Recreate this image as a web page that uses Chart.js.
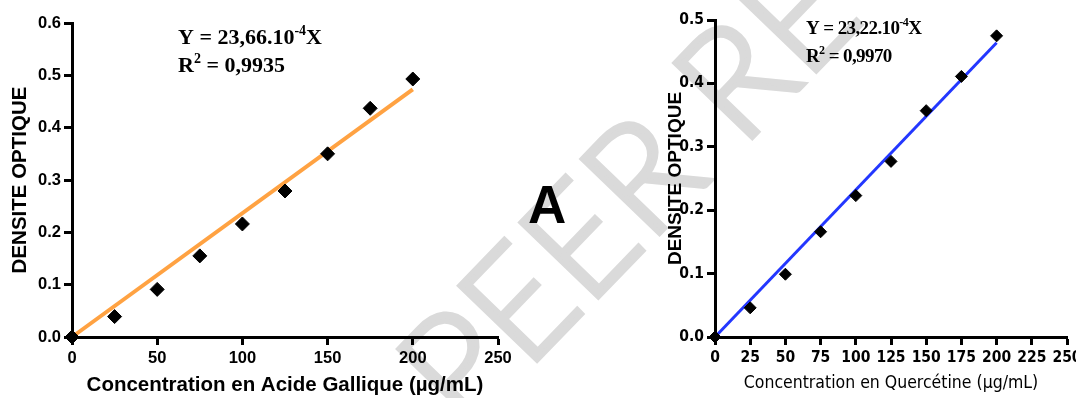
<!DOCTYPE html>
<html>
<head>
<meta charset="utf-8">
<script src="https://cdn.jsdelivr.net/npm/chart.js@4.4.0/dist/chart.umd.min.js"></script>
<style>
  html, body { margin: 0; padding: 0; background: #fff; overflow: hidden; width: 1076px; height: 398px; }
  canvas { position: absolute; top: 0; }
  #bg { left: 0; }
  #left { left: 0; }
  #right { left: 540px; }
  #panel { position: absolute; left: 528px; top: 178px; font: bold 53px 'Liberation Sans', Arial, sans-serif; line-height: 53px; color: #000; }
</style>
</head>
<body>
<canvas id="bg" width="1076" height="398"></canvas>
<canvas id="left" width="540" height="398"></canvas>
<canvas id="right" width="560" height="398"></canvas>
<div id="panel">A</div>
<script>
// concentrations (µg/mL) and optical densities
const concX = [0, 25, 50, 75, 100, 125, 150, 175, 200];
const gallicOD = [0.000, 0.039, 0.091, 0.155, 0.216, 0.279, 0.350, 0.437, 0.493];
const quercetinOD = [0.000, 0.046, 0.099, 0.166, 0.223, 0.277, 0.357, 0.411, 0.475];

// regression lines (end points)
const fitX = [0, 200];
const gallicFit = [0, 0.473];
const quercetinFit = [0, 0.464];

const yTitle = 'DENSITE OPTIQUE';
const gallicTitle = 'Concentration en Acide Gallique (µg/mL)';
const quercetinTitle = 'Concentration en Quercétine (µg/mL)';
const gallicEq = ['Y = 23,66.10', '-4', 'X'];
const gallicR2 = ['R', '2', ' = 0,9935'];
const quercetinEq = ['Y = 23,22.10', '-4', 'X'];
const quercetinR2 = ['R', '2', ' = 0,9970'];

function pts(xs, ys) {
    return xs.map((x, i) => ({ x: x, y: ys[i] }));
}

// watermark behind both charts
function drawWatermark() {
    const ctx = document.getElementById('bg').getContext('2d');
    ctx.save();
    ctx.translate(465, 435);
    ctx.rotate(-46 * Math.PI / 180);
    ctx.font = '300 152px Lato, "Open Sans", sans-serif';
    ctx.fillStyle = '#dadada';
    ctx.strokeStyle = '#dadada';
    ctx.lineWidth = 5;
    ctx.lineJoin = 'miter';
    ctx.fillText('PEER REVIEW', 0, 0);
    ctx.strokeText('PEER REVIEW', 0, 0);
    ctx.restore();
}

// draws "base" + superscript + "tail" at a spot relative to the chart area
function equationPlugin(opts) {
    return {
        id: 'equation',
        afterDraw(chart) {
            const ctx = chart.ctx;
            const a = chart.chartArea;
            const fam = 'px "Liberation Serif", "Times New Roman", serif';
            ctx.save();
            ctx.fillStyle = '#000';
            ctx.textBaseline = 'alphabetic';
            ctx.letterSpacing = opts.spacing;
            opts.lines.forEach((parts, i) => {
                let x = a.left + opts.dx;
                const y = a.top + opts.dy + i * opts.gap;
                ctx.font = 'bold ' + opts.size + fam;
                ctx.fillText(parts[0], x, y);
                x += ctx.measureText(parts[0]).width;
                ctx.font = 'bold ' + Math.round(opts.size * 0.62) + fam;
                ctx.fillText(parts[1], x, y - opts.size * 0.4);
                x += ctx.measureText(parts[1]).width;
                ctx.font = 'bold ' + opts.size + fam;
                ctx.fillText(parts[2], x, y);
            });
            ctx.restore();
        }
    };
}

function makeChart(id, cfg) {
    return new Chart(document.getElementById(id), {
        type: 'scatter',
        data: {
            datasets: [{
                type: 'scatter',
                data: pts(concX, cfg.values),
                pointStyle: 'rectRot',
                pointRadius: cfg.pointRadius,
                backgroundColor: '#000',
                borderColor: '#000',
                borderWidth: 1,
                clip: false,
                order: 1
            }, {
                type: 'line',
                data: pts(fitX, cfg.fit),
                borderColor: cfg.lineColor,
                borderWidth: cfg.lineWidth,
                pointRadius: 0,
                fill: false,
                clip: false,
                order: 2
            }]
        },
        options: {
            responsive: false,
            animation: false,
            layout: { padding: { left: 0, top: cfg.top, right: cfg.right, bottom: 0 } },
            plugins: { legend: { display: false }, tooltip: { enabled: false } },
            scales: {
                x: {
                    type: 'linear',
                    min: 0,
                    max: 250,
                    afterFit: s => { s.height = 61; },
                    ticks: { stepSize: cfg.xStep, color: '#000', font: cfg.tickFont, padding: 4, maxRotation: 0 },
                    grid: { drawOnChartArea: false, drawTicks: true, tickLength: 8, tickColor: '#000', tickWidth: 3 },
                    border: { display: true, color: '#000', width: 3 },
                    title: { display: true, text: cfg.xTitle, color: '#000', font: cfg.xTitleFont, padding: { top: 0, bottom: cfg.xTitlePad } }
                },
                y: {
                    type: 'linear',
                    min: 0,
                    max: cfg.yMax,
                    afterFit: s => { s.width = cfg.yWidth; },
                    ticks: { stepSize: 0.1, color: '#000', font: cfg.tickFont, padding: 3, callback: v => v.toFixed(1) },
                    grid: { drawOnChartArea: false, drawTicks: true, tickLength: 8, tickColor: '#000', tickWidth: 3 },
                    border: { display: true, color: '#000', width: 3 },
                    title: { display: true, text: yTitle, color: '#000', font: cfg.yTitleFont, padding: { top: cfg.yTitlePad, bottom: 0 } }
                }
            }
        },
        plugins: [equationPlugin(cfg.eq)]
    });
}

drawWatermark();

makeChart('left', {
    values: gallicOD,
    fit: gallicFit,
    lineColor: 'rgb(255,162,66)',
    lineWidth: 4,
    pointRadius: 7,
    top: 23,
    right: 42,
    yMax: 0.6,
    yWidth: 72,
    xStep: 50,
    tickFont: { family: '"Liberation Sans", Arial, sans-serif', size: 16.5, weight: 'bold' },
    xTitle: gallicTitle,
    xTitleFont: { family: '"Liberation Sans", Arial, sans-serif', size: 20.5, weight: 'bold' },
    xTitlePad: 0,
    yTitleFont: { family: '"Liberation Sans", Arial, sans-serif', size: 20.5, weight: 'bold' },
    yTitlePad: 8,
    eq: { lines: [gallicEq, gallicR2], dx: 106, dy: 21, gap: 28, size: 22, spacing: '0px' }
});

makeChart('right', {
    values: quercetinOD,
    fit: quercetinFit,
    lineColor: 'rgb(35,55,255)',
    lineWidth: 3,
    pointRadius: 6,
    top: 20,
    right: 33,
    yMax: 0.5,
    yWidth: 175,
    xStep: 25,
    tickFont: { family: '"DejaVu Sans Condensed", "Liberation Sans", sans-serif', size: 15.5, weight: 'bold' },
    xTitle: quercetinTitle,
    xTitleFont: { family: '"DejaVu Sans Condensed", "Liberation Sans", sans-serif', size: 17.5, weight: 'normal' },
    xTitlePad: 4,
    yTitleFont: { family: '"Liberation Sans", Arial, sans-serif', size: 19, weight: 'bold' },
    yTitlePad: 124,
    eq: { lines: [quercetinEq, quercetinR2], dx: 91, dy: 14, gap: 28, size: 19, spacing: '-0.6px' }
});
</script>
</body>
</html>
